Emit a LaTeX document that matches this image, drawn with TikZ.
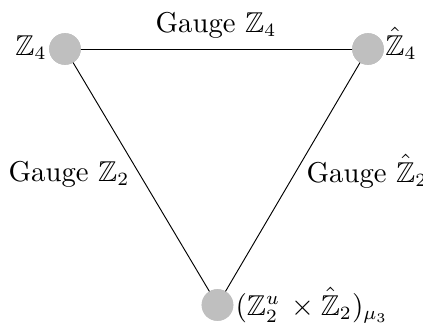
\documentclass[tikz,border=0pt]{standalone}
\usepackage{amssymb}
\begin{document}
\begin{tikzpicture}[x=0.373pt,y=-0.373pt,
  font=\fontsize{10.7}{13}\selectfont,
  dot/.style={circle,fill=lightgray,inner sep=0pt,minimum size=11.8pt},
  lbl/.style={inner sep=0pt,anchor=base},
  edge/.style={draw=black,line width=0.35pt}]
\useasboundingbox (0,0) rectangle (423,323);
\node[dot] (a) at (65,49) {};
\node[dot] (b) at (368,49) {};
\node[dot] (c) at (217.5,305) {};
\draw[edge] (a.center) -- (b.center);
\draw[edge] (a.center) -- (c.center);
\draw[edge] (b.center) -- (c.center);
\node[dot] at (a) {};
\node[dot] at (b) {};
\node[dot] at (c) {};
\node[lbl] (la) at (31,55) {$\mathbb{Z}_4$};
\node[lbl] (lb) at (401,55) {$\hat{\mathbb{Z}}_4$};
\node[lbl,anchor=base west] (lc) at (235,315) {$(\mathbb{Z}_2^u\,\times\hat{\mathbb{Z}}_2)_{\mu_3}$};
\node[lbl] (eab) at (216,32) {Gauge $\mathbb{Z}_4$};
\node[lbl] (eac) at (69,181) {Gauge $\mathbb{Z}_2$};
\node[lbl] (ebc) at (367,182) {Gauge $\hat{\mathbb{Z}}_2$};
\end{tikzpicture}
\end{document}
